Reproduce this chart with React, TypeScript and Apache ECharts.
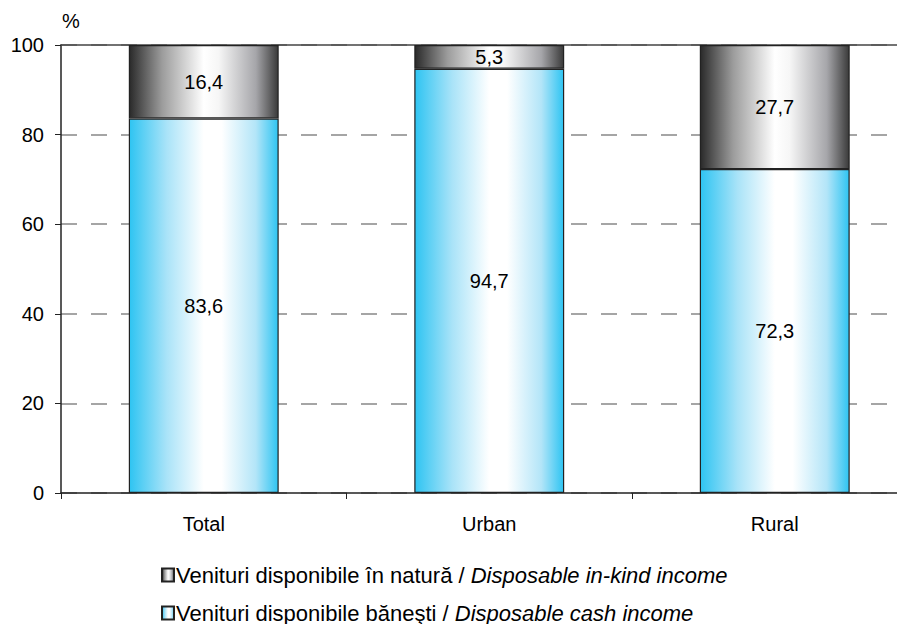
import React, { useEffect, useRef } from "react";
import * as echarts from "echarts";

const categories = ["Total", "Urban", "Rural"];
const cashIncome = [83.6, 94.7, 72.3];
const inKindIncome = [16.4, 5.3, 27.7];
const yTicks = { min: 0, max: 100, interval: 20 };
const nameInKind = "Venituri disponibile în natură / ";
const nameInKindEn = "Disposable in-kind income";
const nameCash = "Venituri disponibile băneşti / ";
const nameCashEn = "Disposable cash income";

const FONT = "'Liberation Sans', Arial, sans-serif";

const blueGrad = new echarts.graphic.LinearGradient(0, 0, 1, 0, [
  { offset: 0, color: "#2ec4f2" },
  { offset: 0.25, color: "#a9e3f8" },
  { offset: 0.5, color: "#ffffff" },
  { offset: 0.62, color: "#ffffff" },
  { offset: 0.85, color: "#b3e5f8" },
  { offset: 1, color: "#2ec4f2" },
]);
const grayGrad = new echarts.graphic.LinearGradient(0, 0, 1, 0, [
  { offset: 0, color: "#2a2a2a" },
  { offset: 0.22, color: "#9c9c9c" },
  { offset: 0.5, color: "#ffffff" },
  { offset: 0.6, color: "#f6f6f6" },
  { offset: 0.85, color: "#a6a6aa" },
  { offset: 1, color: "#3a3a3a" },
]);

export default function App() {
  const ref = useRef<HTMLDivElement>(null);
  useEffect(() => {
    if (!ref.current) return;
    const chart = echarts.init(ref.current, null, { renderer: "svg" });
    const fmt = (p: any) => String(p.value).replace(".", ",");
    chart.setOption({
      animation: false,
      textStyle: { fontFamily: FONT },
      grid: [
        { left: 61, width: 856.5, top: 45, bottom: 139, outerBoundsMode: "none", containLabel: false },
        { left: 61, width: 832, top: 45, bottom: 139, outerBoundsMode: "none", containLabel: false },
      ],
      graphic: [
        {
          type: "text",
          left: 62,
          top: 11,
          style: { text: "%", font: `20px ${FONT}`, fill: "#000" },
        },
      ],
      xAxis: [
        {
          type: "category",
          gridIndex: 0,
          data: categories,
          axisLine: { lineStyle: { color: "#222", width: 1.5 } },
          axisTick: { show: true, length: 6, lineStyle: { color: "#222" } },
          axisLabel: { color: "#000", fontSize: 20, margin: 21, fontFamily: FONT },
        },
        {
          type: "category",
          gridIndex: 0,
          position: "top",
          data: categories,
          axisLine: { lineStyle: { color: "#444", width: 1.5 } },
          axisTick: { show: false },
          axisLabel: { show: false },
        },
        {
          type: "category",
          gridIndex: 1,
          data: categories,
          show: false,
        },
      ],
      yAxis: [
        {
          type: "value",
          gridIndex: 0,
          min: yTicks.min,
          max: yTicks.max,
          interval: yTicks.interval,
          axisLine: { show: true, lineStyle: { color: "#222", width: 1.5 } },
          axisTick: { show: true, length: 6, lineStyle: { color: "#222" } },
          axisLabel: { color: "#000", fontSize: 20, margin: 17, fontFamily: FONT },
          splitLine: { show: false },
        },
        {
          type: "value",
          gridIndex: 1,
          min: yTicks.min,
          max: yTicks.max,
          interval: yTicks.interval,
          axisLine: { show: false },
          axisTick: { show: false },
          axisLabel: { show: false },
          splitLine: {
            show: true,
            lineStyle: { color: "#888", width: 1.5, type: [16, 14] },
          },
        },
      ],
      legend: {
        orient: "vertical",
        left: 161,
        top: 564,
        padding: 0,
        itemGap: 16,
        itemWidth: 12,
        itemHeight: 13,
        icon: "rect",
        data: [nameInKind, nameCash],
        formatter: (name: string) =>
          name === nameInKind
            ? `{a|${nameInKind}}{b|${nameInKindEn}}`
            : `{a|${nameCash}}{b|${nameCashEn}}`,
        textStyle: {
          color: "#000",
          fontSize: 22,
          fontFamily: FONT,
          padding: [0, 0, 0, -3],
          rich: {
            a: { fontSize: 22, fontFamily: FONT, color: "#000" },
            b: { fontSize: 22, fontFamily: FONT, color: "#000", fontStyle: "italic" },
          },
        },
      },
      series: [
        {
          name: nameCash,
          type: "bar",
          stack: "s",
          xAxisIndex: 0,
          yAxisIndex: 0,
          data: cashIncome,
          barWidth: "52.5%",
          itemStyle: { color: blueGrad, borderColor: "#222", borderWidth: 1.2 },
          label: {
            show: true,
            position: "inside",
            color: "#000",
            fontSize: 20,
            fontFamily: FONT,
            formatter: fmt,
          },
          z: 3,
        },
        {
          name: nameInKind,
          type: "bar",
          stack: "s",
          xAxisIndex: 0,
          yAxisIndex: 0,
          data: inKindIncome,
          barWidth: "52.5%",
          itemStyle: { color: grayGrad, borderColor: "#222", borderWidth: 1.2 },
          label: {
            show: true,
            position: "inside",
            color: "#000",
            fontSize: 20,
            fontFamily: FONT,
            formatter: fmt,
          },
          z: 3,
        },
      ],
    });
    return () => chart.dispose();
  }, []);
  return <div ref={ref} style={{ width: 905, height: 632, margin: -8 }} />;
}
